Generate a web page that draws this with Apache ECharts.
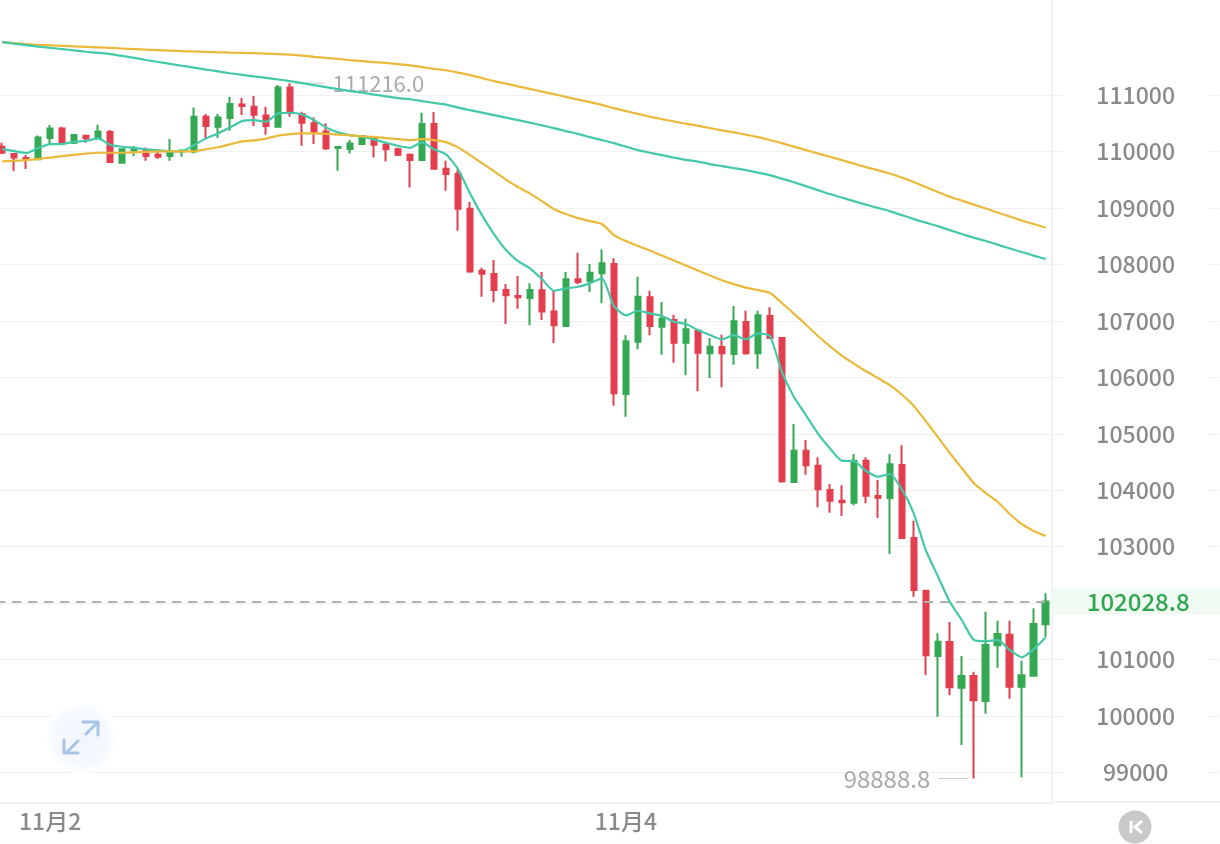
<!DOCTYPE html>
<html>
<head>
<meta charset="utf-8">
<style>html,body{margin:0;padding:0;background:#fff}#c{width:1220px;height:844px}</style>
<script src="https://cdn.jsdelivr.net/npm/echarts@6/dist/echarts.min.js"></script>
</head>
<body>
<div id="c"></div>
<script>
// [open, close, low, high]
const candles = [
[110088,109982,109959,110159],[109959,109900,109657,109967],[109888,109870,109693,109941],[109865,110254,109852,110290],[110242,110414,110136,110472],
[110414,110153,110136,110442],[110159,110295,110136,110313],[110283,110237,110159,110295],[110237,110361,110219,110478],[110348,109817,109804,110384],
[109804,110042,109804,110047],[110024,110060,109923,110100],[110029,109923,109840,110077],[109946,109911,109875,110042],[109923,110012,109840,110224],
[110003,110021,109911,110029],[110006,110620,109971,110786],[110620,110455,110237,110667],[110442,110609,110242,110667],[110597,110845,110371,110974],
[110839,110809,110650,110951],[110797,110655,110455,110986],[110644,110455,110301,110797],[110442,111141,110432,111181],[111141,110691,110620,111216],
[110667,110513,110106,110708],[110503,110361,110136,110609],[110361,110060,110029,110503],[110065,110083,109663,110083],[110047,110148,109971,110207],
[110136,110278,110118,110295],[110237,110123,109900,110260],[110123,110042,109829,110159],[110042,109946,109923,110077],[109946,109852,109368,109971],
[109852,110490,109852,110691],[110490,109698,109698,110703],[109698,109604,109308,109840],[109604,108989,108599,109687],[108989,107879,107855,109108],
[107890,107837,107429,107943],[107832,107548,107330,108080],[107548,107454,106945,107654],[107442,107419,107217,107796],[107406,107548,106922,107667],
[107543,107170,107016,107867],[107170,106922,106609,107536],[106910,107738,106910,107867],[107738,107690,107649,108209],[107702,107855,107513,108009],
[107844,108021,107312,108269],[108009,105717,105498,108110],[105705,106639,105302,106745],[106632,107429,106497,107784],[107419,106910,106745,107536],
[106898,107039,106401,107335],[107016,106614,106260,107110],[106614,106851,106036,107039],[106827,106437,105752,106851],[106426,106543,105988,106697],
[106538,106426,105824,106756],[106414,106993,106224,107264],[106981,106426,106401,107181],[106426,107100,106153,107181],[107087,106697,106692,107241],
[106697,104157,104133,106697],[104145,104700,104133,105173],[104700,104441,104274,104889],[104434,104016,103697,104583],[104003,103814,103601,104110],
[103814,103785,103542,104086],[103778,104523,103732,104641],[104523,103902,103767,104583],[103897,103867,103507,104180],[103861,104459,102869,104641],
[104446,103152,103140,104795],[103152,102231,102112,103459],[102218,101073,100724,102218],[101061,101314,99985,101463],[101309,100506,100364,101664],
[100499,100707,99484,101061],[100707,100276,98888.8,100783],[100263,101256,100039,101846],[101251,101451,100854,101687],[101439,100517,100304,101687],
[100517,100719,98911,100978],[100712,101628,100712,101906],[101623,102028.8,101403,102172]
];
const maShort = [
110047,110012,109976,110065,110136,110136,110176,110194,110237,110123,
110088,110070,110042,110024,110006,110012,110118,110237,110325,110432,
110543,110561,110531,110680,110691,110662,110561,110432,110343,110295,
110265,110219,110159,110106,110070,110166,110042,109953,109693,109262,
108877,108541,108257,108062,107933,107743,107536,107578,107606,107667,
107755,107264,107100,107181,107135,107087,106986,106945,106839,106750,
106674,106750,106674,106781,106733,106100,105657,105333,105008,104742,
104523,104517,104345,104239,104287,104016,103590,102940,102479,102023,
101699,101345,101321,101345,101167,101038,101180,101393
];
const maMid = [
109829,109840,109852,109873,109897,109923,109946,109967,109982,109982,
109982,109990,109999,110003,110006,110006,110008,110044,110079,110132,
110184,110203,110233,110286,110313,110325,110325,110317,110304,110290,
110274,110265,110242,110224,110207,110224,110207,110171,110077,109941,
109799,109657,109507,109374,109258,109125,108984,108895,108824,108771,
108718,108523,108417,108328,108248,108159,108071,107982,107894,107805,
107722,107654,107592,107548,107500,107318,107131,106937,106733,106555,
106387,106245,106112,105988,105864,105696,105492,105226,104943,104659,
104393,104127,103950,103791,103578,103401,103277,103188
];
const maLongGold = [
111944,111926,111908,111894,111885,111876,111867,111859,111850,111841,
111830,111820,111809,111802,111793,111784,111777,111770,111763,111757,
111752,111747,111740,111731,111720,111704,111683,111664,111646,111625,
111607,111589,111575,111554,111531,111500,111469,111444,111403,111359,
111306,111252,111208,111160,111114,111066,111022,110972,110924,110880,
110831,110774,110721,110671,110620,110579,110538,110497,110464,110419,
110380,110343,110304,110260,110207,110153,110091,110029,109971,109911,
109852,109790,109728,109675,109613,109542,109462,109374,109285,109202,
109134,109063,108993,108922,108851,108780,108718,108656
];
const maLongTeal = [
111944,111915,111890,111864,111841,111820,111796,111773,111752,111731,
111699,111664,111626,111591,111557,111525,111490,111456,111424,111392,
111364,111336,111309,111281,111252,111217,111181,111146,111111,111075,
111047,111013,110983,110951,110930,110898,110866,110836,110783,110738,
110694,110650,110605,110561,110515,110467,110419,110366,110317,110260,
110207,110153,110091,110029,109982,109941,109897,109856,109826,109781,
109746,109710,109675,109631,109586,109524,109459,109391,109320,109250,
109188,109125,109063,109005,108948,108877,108806,108744,108682,108611,
108541,108477,108417,108354,108284,108222,108159,108097
];
const dateLabels = {4: '11月2', 52: '11月4'};
const gridValues = [99000,100000,101000,102000,103000,104000,105000,106000,107000,108000,109000,110000,111000];
const labelValues = [99000,100000,101000,103000,104000,105000,106000,107000,108000,109000,110000,111000];
const lastPrice = 102028.8;
const highMark = {index: 24, value: 111216, text: '111216.0'};
const lowMark = {index: 81, value: 98888.8, text: '98888.8'};
const categories = candles.map((_, i) => dateLabels[i] || String(i));

const FONT = '"Noto Sans CJK SC",sans-serif';
const GREEN = '#34a853', RED = '#e23e4e', TEAL = '#43c8a8', GOLD = '#ebb93a';
const lineSeries = (data, color) => ({
  type: 'line', data, showSymbol: false, symbol: 'none', smooth: 0.2, z: 5,
  lineStyle: {color, width: 2.2}, itemStyle: {color}
});
const arrow = (pts) => ({
  type: 'polyline', shape: {points: pts}, silent: true,
  style: {stroke: '#a9c3e7', lineWidth: 3, fill: null, lineCap: 'round', lineJoin: 'round'}
});

const chart = echarts.init(document.getElementById('c'), null, {renderer: 'canvas'});
chart.setOption({
  animation: false,
  backgroundColor: '#fff',
  grid: {left: -3.8, width: 1055.5, top: 0, height: 802.7, outerBoundsMode: 'none'},
  xAxis: {
    type: 'category', data: categories, boundaryGap: true,
    axisLine: {onZero: false, lineStyle: {color: '#f0f0f0', width: 2}},
    axisTick: {show: false}, splitLine: {show: false},
    axisLabel: {
      interval: (i) => i in dateLabels, hideOverlap: false, margin: 7,
      fontFamily: FONT, fontSize: 23, fontWeight: 500, color: '#8a8a8a'
    }
  },
  yAxis: {
    type: 'value', position: 'right', min: 98460, max: 112690,
    axisLine: {show: true, lineStyle: {color: '#f2f2f2', width: 2}},
    axisTick: {show: true, customValues: gridValues, length: 168, lineStyle: {color: '#f0f0f0', width: 1}},
    splitLine: {show: true, lineStyle: {color: '#f0f0f0', width: 1}},
    axisLabel: {
      customValues: labelValues, margin: 84, align: 'center', verticalAlign: 'middle',
      width: 144, lineHeight: 30, backgroundColor: '#fff',
      fontFamily: FONT, fontSize: 23, fontWeight: 500, color: '#8a8a8a',
      formatter: (v) => String(v)
    }
  },
  series: [
    {
      type: 'candlestick', data: candles, barWidth: 6, z: 3,
      itemStyle: {color: GREEN, color0: RED, borderColor: GREEN, borderColor0: RED, borderWidth: 2},
      markLine: {
        silent: true, symbol: 'none', animation: false,
        lineStyle: {type: [9, 7], color: '#b0b0b0', width: 2},
        data: [{yAxis: lastPrice}],
        label: {
          position: 'end', distance: 0, formatter: String(lastPrice),
          fontFamily: FONT, fontSize: 24, fontWeight: 500, color: '#2fa650',
          backgroundColor: '#f0f9f2', padding: [1, 33, 1, 35]
        }
      },
      markPoint: {
        silent: true, symbol: 'circle', symbolSize: 1, animation: false,
        itemStyle: {color: 'transparent'},
        data: [
          {
            coord: [highMark.index, highMark.value], value: highMark.text,
            label: {
              show: true, position: 'right', distance: 4, formatter: '{l|}{v|' + highMark.text + '}',
              rich: {l: {width: 30, height: 1, backgroundColor: '#cccccc'},
                     v: {fontFamily: FONT, fontSize: 22, color: '#aaaaaa', padding: [0, 0, 0, 8]}}
            }
          },
          {
            coord: [lowMark.index, lowMark.value], value: lowMark.text,
            label: {
              show: true, position: 'left', distance: 5, formatter: '{v|' + lowMark.text + '}{l|}',
              rich: {l: {width: 30, height: 1, backgroundColor: '#cccccc'},
                     v: {fontFamily: FONT, fontSize: 24, color: '#aaaaaa', padding: [0, 8, 0, 0]}}
            }
          }
        ]
      }
    },
    lineSeries(maShort, TEAL),
    lineSeries(maMid, GOLD),
    lineSeries(maLongGold, GOLD),
    lineSeries(maLongTeal, TEAL)
  ],
  graphic: [
    {type: 'circle', silent: true, z: 1, shape: {cx: 81, cy: 738, r: 36},
     style: {fill: {type: 'radial', x: 0.5, y: 0.5, r: 0.5,
       colorStops: [{offset: 0, color: '#f1f6fe'}, {offset: 0.75, color: '#f5f9fe'}, {offset: 1, color: '#ffffff'}]}}},
    Object.assign(arrow([[83, 722], [98, 722], [98, 735]]), {z: 2}),
    Object.assign(arrow([[86, 734], [97, 723]]), {z: 2}),
    Object.assign(arrow([[64, 740], [64, 753], [78, 753]]), {z: 2}),
    Object.assign(arrow([[67, 752], [78, 741]]), {z: 2}),
    {type: 'line', silent: true, shape: {x1: 1052, y1: 802, x2: 1220, y2: 802}, style: {stroke: '#f0f0f0', lineWidth: 2}},
    {type: 'line', silent: true, shape: {x1: 0, y1: 842, x2: 1220, y2: 842}, style: {stroke: '#f6f6f6', lineWidth: 1}},
    {type: 'circle', silent: true, shape: {cx: 1135, cy: 827, r: 16.5}, style: {fill: '#c9c9c9'}},
    {type: 'polyline', silent: true, z: 5, shape: {points: [[1131, 821], [1131, 833]]},
     style: {stroke: '#fff', lineWidth: 3, fill: null}},
    {type: 'polyline', silent: true, z: 5, shape: {points: [[1142, 821], [1135, 827], [1142, 833]]},
     style: {stroke: '#fff', lineWidth: 3, fill: null}}
  ]
});
</script>
</body>
</html>
